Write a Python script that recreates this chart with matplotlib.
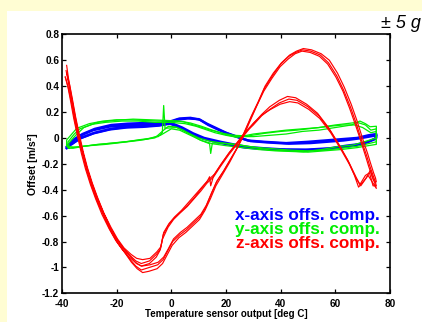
import matplotlib
matplotlib.use("Agg")
import matplotlib.pyplot as plt
from matplotlib.patches import Rectangle
from matplotlib.font_manager import FontProperties

# ---------------- data ----------------
x_ticks = [-40, -20, 0, 20, 40, 60, 80]
y_ticks = [0.8, 0.6, 0.4, 0.2, 0, -0.2, -0.4, -0.6, -0.8, -1, -1.2]
y_tick_labels = ["0.8", "0.6", "0.4", "0.2", "0", "-0.2", "-0.4", "-0.6", "-0.8", "-1", "-1.2"]
legend_labels = ["x-axis offs. comp.", "y-axis offs. comp.", "z-axis offs. comp."]

# z-axis offset compensation, three temperature cycles (temp, offset)
z_cycle1 = [(-38.3, 0.56), (-37.5, 0.44), (-36.5, 0.32), (-35.3, 0.18), (-34.0, 0.04), (-32.5, -0.10),
            (-31.0, -0.22), (-29.2, -0.34), (-27.3, -0.45), (-25.0, -0.57), (-22.4, -0.69), (-20.0, -0.78),
            (-17.6, -0.85), (-15.0, -0.91), (-13.0, -0.95), (-11.0, -0.97), (-8.0, -0.95), (-5.5, -0.90),
            (-4.0, -0.86), (-3.0, -0.75), (-1.0, -0.67), (1.0, -0.62), (3.5, -0.57), (6.0, -0.52),
            (8.5, -0.46), (11.0, -0.39), (13.0, -0.34), (14.0, -0.30), (14.4, -0.37), (15.5, -0.29),
            (18.0, -0.21), (21.0, -0.12), (24.0, -0.04), (27.0, 0.04), (30.0, 0.10), (33.0, 0.17),
            (36.0, 0.22), (39.5, 0.27), (43.0, 0.30), (46.0, 0.29), (50.0, 0.24), (54.0, 0.17),
            (58.0, 0.06), (61.5, -0.06), (65.0, -0.19), (67.5, -0.30), (69.0, -0.36), (71.0, -0.29),
            (72.5, -0.27), (73.8, -0.37), (75.0, -0.37),
            (74.5, -0.33), (73.8, -0.29), (72.5, -0.21), (71.5, -0.14), (70.2, -0.06), (69.0, 0.02),
            (67.5, 0.12), (65.5, 0.24), (63.0, 0.37), (60.5, 0.48), (57.5, 0.58), (54.5, 0.64),
            (51.0, 0.67), (48.0, 0.68), (45.5, 0.66), (43.0, 0.63), (40.0, 0.57), (37.0, 0.48),
            (34.0, 0.38), (31.5, 0.26), (29.0, 0.15), (26.5, 0.03), (24.0, -0.08), (21.5, -0.17),
            (19.0, -0.26), (16.5, -0.34), (14.5, -0.44), (12.5, -0.54), (10.5, -0.61), (8.0, -0.66),
            (5.5, -0.71), (3.0, -0.75), (0.5, -0.80), (-1.5, -0.88), (-3.0, -0.94), (-5.0, -0.98),
            (-8.0, -1.00), (-11.0, -1.02), (-13.0, -0.99), (-15.0, -0.94), (-17.6, -0.87), (-20.0, -0.80),
            (-22.4, -0.71), (-25.0, -0.59), (-27.3, -0.48), (-29.2, -0.37), (-31.0, -0.25), (-32.5, -0.13),
            (-34.0, 0.00), (-35.3, 0.13), (-36.5, 0.27), (-37.6, 0.38), (-38.8, 0.47)]

z_cycle2 = [(-38.8, 0.47), (-37.9, 0.40), (-36.9, 0.29), (-35.7, 0.15), (-34.4, 0.02), (-32.9, -0.12),
            (-31.4, -0.24), (-29.6, -0.36), (-27.7, -0.47), (-25.4, -0.59), (-22.8, -0.70), (-20.4, -0.79),
            (-18.0, -0.86), (-15.4, -0.92), (-13.2, -0.96), (-11.0, -0.99), (-8.0, -0.97), (-5.5, -0.92),
            (-4.2, -0.87), (-3.2, -0.78), (-1.2, -0.69), (0.8, -0.63), (3.2, -0.58), (5.8, -0.53),
            (8.3, -0.47), (10.8, -0.41), (13.0, -0.35), (15.5, -0.30), (18.0, -0.22), (21.0, -0.13),
            (24.0, -0.05), (27.0, 0.03), (30.0, 0.11), (33.0, 0.18), (36.0, 0.24), (39.5, 0.29),
            (42.5, 0.32), (45.5, 0.31), (49.5, 0.26), (53.5, 0.19), (57.5, 0.08), (61.0, -0.04),
            (64.5, -0.17), (67.0, -0.29), (68.5, -0.38), (70.5, -0.33), (72.0, -0.29), (73.5, -0.34),
            (75.0, -0.39),
            (74.3, -0.34), (73.5, -0.30), (72.2, -0.22), (71.2, -0.15), (70.0, -0.07), (68.8, 0.01),
            (67.2, 0.11), (65.2, 0.23), (62.8, 0.36), (60.2, 0.47), (57.2, 0.57), (54.2, 0.63),
            (50.8, 0.66), (47.8, 0.67), (45.3, 0.65), (42.8, 0.61), (39.8, 0.55), (36.8, 0.46),
            (33.8, 0.36), (31.3, 0.25), (28.8, 0.13), (26.3, 0.01), (23.8, -0.09), (21.3, -0.19),
            (18.8, -0.28), (16.3, -0.37), (14.3, -0.47), (12.3, -0.56), (10.3, -0.63), (7.8, -0.68),
            (5.3, -0.73), (2.8, -0.77), (0.3, -0.83), (-1.7, -0.91), (-3.2, -0.97), (-5.2, -1.01),
            (-8.2, -1.03), (-10.5, -1.04), (-12.5, -1.01), (-14.6, -0.96), (-17.2, -0.88), (-19.6, -0.81),
            (-22.0, -0.72), (-24.6, -0.60), (-26.9, -0.49), (-28.8, -0.38), (-30.6, -0.26), (-32.1, -0.14),
            (-33.6, -0.01), (-34.9, 0.12), (-36.1, 0.26), (-37.2, 0.39), (-38.2, 0.50)]

z_cycle3 = [(-38.2, 0.50), (-37.2, 0.41), (-36.2, 0.30), (-35.0, 0.16), (-33.7, 0.03), (-32.2, -0.11),
            (-30.7, -0.23), (-28.9, -0.35), (-27.0, -0.46), (-24.7, -0.58), (-22.1, -0.69), (-19.7, -0.78),
            (-17.3, -0.85), (-14.7, -0.90), (-12.7, -0.93), (-10.5, -0.94), (-7.8, -0.93), (-5.3, -0.88),
            (-3.8, -0.84), (-2.8, -0.73), (-0.8, -0.66), (1.2, -0.61), (3.7, -0.56), (6.2, -0.50),
            (8.7, -0.44), (11.2, -0.38), (13.3, -0.33), (15.8, -0.28), (18.3, -0.20), (21.3, -0.11),
            (24.3, -0.03), (27.3, 0.05), (30.3, 0.12), (33.3, 0.18), (36.3, 0.22), (39.8, 0.26),
            (43.3, 0.28), (46.3, 0.27), (50.3, 0.22), (54.3, 0.15), (58.3, 0.04), (61.8, -0.08),
            (65.3, -0.21), (67.8, -0.32), (69.3, -0.37), (71.3, -0.31), (72.8, -0.25), (74.0, -0.33),
            (75.0, -0.34),
            (74.7, -0.31), (74.0, -0.27), (72.8, -0.19), (71.8, -0.12), (70.5, -0.04), (69.3, 0.04),
            (67.8, 0.14), (65.8, 0.26), (63.3, 0.39), (60.8, 0.50), (57.8, 0.60), (54.8, 0.65),
            (51.3, 0.68), (48.3, 0.69), (45.8, 0.67), (43.3, 0.64), (40.3, 0.58), (37.3, 0.50),
            (34.3, 0.40), (31.8, 0.28), (29.3, 0.17), (26.8, 0.05), (24.3, -0.07), (21.8, -0.16),
            (19.3, -0.25), (16.8, -0.33), (14.8, -0.42), (12.8, -0.52), (10.8, -0.59), (8.3, -0.64),
            (5.8, -0.69), (3.3, -0.73), (0.8, -0.78), (-1.2, -0.86), (-2.8, -0.92), (-4.8, -0.96),
            (-7.8, -0.98), (-10.8, -0.99), (-12.8, -0.97), (-14.8, -0.92), (-17.4, -0.86), (-19.8, -0.79),
            (-22.2, -0.70), (-24.8, -0.58), (-27.1, -0.47), (-29.0, -0.36), (-30.8, -0.24), (-32.3, -0.12),
            (-33.8, 0.01), (-35.1, 0.14), (-36.3, 0.28), (-37.4, 0.40), (-38.5, 0.52)]

# x-axis offset compensation, two cycles
x_cycle1 = [(-38.3, -0.08), (-36.0, -0.02), (-33.0, 0.02), (-28.5, 0.06), (-22.0, 0.09), (-16.0, 0.10),
            (-10.0, 0.105), (-4.0, 0.105), (0.0, 0.12), (2.0, 0.14), (6.0, 0.15), (10.0, 0.145),
            (13.0, 0.11), (17.0, 0.07), (20.0, 0.04), (24.0, 0.01), (28.0, -0.02), (34.0, -0.03),
            (42.0, -0.04), (50.0, -0.03), (56.0, -0.02), (62.0, -0.01), (68.0, 0.00), (72.0, 0.02),
            (75.0, 0.03), (75.0, 0.00), (72.0, -0.03), (68.0, -0.05), (64.0, -0.06), (58.0, -0.08),
            (50.0, -0.09), (42.0, -0.09), (34.0, -0.08), (28.0, -0.07), (24.0, -0.055), (18.0, -0.03),
            (12.0, 0.00), (8.0, 0.035), (4.0, 0.08), (0.0, 0.115), (-4.0, 0.10), (-10.0, 0.09),
            (-16.0, 0.085), (-22.0, 0.07), (-28.0, 0.04), (-33.0, 0.00), (-36.0, -0.04), (-38.3, -0.07)]

x_cycle2 = [(-38.0, -0.06), (-35.5, -0.01), (-32.5, 0.03), (-28.0, 0.07), (-22.0, 0.10), (-16.0, 0.11),
            (-10.0, 0.115), (-4.0, 0.115), (0.0, 0.13), (3.0, 0.15), (7.0, 0.155), (10.5, 0.14),
            (13.5, 0.10), (17.5, 0.06), (21.0, 0.03), (25.0, 0.00), (29.0, -0.025), (35.0, -0.035),
            (43.0, -0.045), (51.0, -0.04), (57.0, -0.03), (63.0, -0.02), (68.5, -0.005), (72.5, 0.01),
            (75.0, 0.02), (74.5, -0.01), (71.5, -0.035), (67.5, -0.055), (63.0, -0.07), (57.0, -0.085),
            (49.0, -0.095), (41.0, -0.09), (33.0, -0.085), (27.0, -0.075), (23.0, -0.06), (17.0, -0.035),
            (11.5, -0.005), (7.5, 0.03), (3.5, 0.075), (-0.5, 0.11), (-4.5, 0.095), (-10.5, 0.085),
            (-16.5, 0.08), (-22.5, 0.065), (-28.5, 0.035), (-33.5, -0.005), (-36.5, -0.05), (-38.0, -0.06)]

# y-axis offset compensation, three cycles
y_cycle1 = [(-38.3, -0.06), (-38.3, -0.016), (-36.0, 0.04), (-34.6, 0.074), (-30.0, 0.11), (-25.0, 0.13),
            (-20.0, 0.14), (-15.0, 0.14), (-10.0, 0.135), (-5.0, 0.13), (0.0, 0.13), (4.4, 0.125),
            (8.0, 0.10), (10.5, 0.086), (13.5, 0.065), (16.6, 0.048), (20.0, 0.025), (23.0, 0.01),
            (30.0, 0.01), (36.0, 0.02), (42.0, 0.03), (48.0, 0.05), (54.0, 0.06), (60.0, 0.08),
            (66.0, 0.10), (69.0, 0.13), (71.0, 0.11), (72.7, 0.086), (75.0, 0.09), (75.0, 0.00),
            (72.7, -0.016), (69.0, -0.04), (66.5, -0.055), (60.5, -0.068), (55.0, -0.09), (48.3, -0.107),
            (42.0, -0.10), (36.0, -0.094), (28.8, -0.068), (24.0, -0.05), (19.0, -0.04), (15.0, -0.04),
            (14.4, -0.12), (14.0, -0.045), (10.5, -0.016), (7.5, 0.02), (4.4, 0.06), (1.5, 0.085),
            (-1.0, 0.09), (-2.3, 0.07), (-2.8, 0.25), (-3.3, 0.04), (-4.8, 0.01), (-7.8, -0.003),
            (-12.0, -0.015), (-16.3, -0.029), (-22.0, -0.04), (-28.5, -0.055), (-33.4, -0.068),
            (-36.0, -0.075), (-38.3, -0.06)]

y_cycle2 = [(-38.0, -0.07), (-37.8, -0.03), (-35.5, 0.03), (-33.5, 0.07), (-29.0, 0.105), (-24.0, 0.12),
            (-18.0, 0.13), (-12.0, 0.13), (-6.0, 0.12), (0.0, 0.12), (5.0, 0.11), (9.0, 0.09),
            (12.5, 0.065), (16.0, 0.04), (20.0, 0.02), (24.0, 0.005), (30.0, 0.03), (36.0, 0.045),
            (42.0, 0.06), (48.0, 0.07), (54.0, 0.08), (60.0, 0.10), (64.0, 0.11), (68.0, 0.12),
            (71.0, 0.10), (73.0, 0.06), (75.0, 0.07), (75.0, -0.03), (72.0, -0.045), (68.0, -0.065),
            (62.0, -0.08), (56.0, -0.095), (50.0, -0.10), (44.0, -0.095), (38.0, -0.085), (32.0, -0.075),
            (26.0, -0.06), (20.0, -0.045), (14.0, -0.025), (10.0, 0.0), (6.0, 0.04), (2.0, 0.08),
            (-2.0, 0.075), (-6.0, 0.0), (-12.0, -0.02), (-18.0, -0.035), (-24.0, -0.05), (-30.0, -0.06),
            (-35.0, -0.07), (-38.0, -0.07)]

y_cycle3 = [(-37.5, -0.08), (-37.5, -0.04), (-35.0, 0.02), (-32.0, 0.08), (-27.0, 0.12), (-21.0, 0.135),
            (-14.0, 0.145), (-8.0, 0.14), (-2.0, 0.135), (3.0, 0.13), (7.0, 0.115), (11.0, 0.09),
            (15.0, 0.06), (19.0, 0.035), (23.0, 0.02), (28.0, 0.015), (34.0, 0.035), (40.0, 0.05),
            (46.0, 0.06), (52.0, 0.075), (58.0, 0.09), (63.0, 0.10), (67.0, 0.10), (70.0, 0.08),
            (73.0, 0.04), (75.0, 0.05), (75.0, -0.05), (72.0, -0.06), (68.0, -0.075), (62.0, -0.09),
            (56.0, -0.10), (50.0, -0.11), (44.0, -0.105), (38.0, -0.10), (32.0, -0.09), (26.0, -0.075),
            (20.0, -0.06), (15.0, -0.045), (11.0, -0.02), (7.0, 0.02), (3.0, 0.06), (0.0, 0.07),
            (-4.0, 0.02), (-9.0, -0.01), (-15.0, -0.025), (-21.0, -0.04), (-27.0, -0.05), (-32.0, -0.065),
            (-36.0, -0.08), (-37.5, -0.08)]

# ---------------- figure ----------------
fig = plt.figure(figsize=(4.22, 3.22), dpi=100, facecolor="#FFFDD3")
fig.patches.append(Rectangle((7 / 422, 0), 1, 1 - 11 / 322, transform=fig.transFigure,
                             facecolor="white", edgecolor="none", zorder=-10))

ax = fig.add_axes([62 / 422, 1 - 293.3 / 322, 328 / 422, 259 / 322])
ax.set_zorder(5)
ax.set_facecolor("white")

def draw(cycles, color, lw):
    for cyc in cycles:
        xs = [p[0] for p in cyc]
        ys = [p[1] for p in cyc]
        ax.plot(xs, ys, color=color, lw=lw, solid_joinstyle="round")

draw([x_cycle1, x_cycle2], "#0000FF", 1.7)
draw([y_cycle1, y_cycle2, y_cycle3], "#00EE00", 0.9)
draw([z_cycle1, z_cycle2, z_cycle3], "#FF0000", 0.85)

ax.set_xlim(-40, 80)
ax.set_ylim(-1.2, 0.8)
ax.set_xticks(x_ticks)
ax.set_xticklabels([str(t) for t in x_ticks])
ax.set_yticks(y_ticks)
ax.set_yticklabels(y_tick_labels)

tick_fp = FontProperties(family="Liberation Sans", weight="bold", size=7.2)
for lab in ax.get_xticklabels() + ax.get_yticklabels():
    lab.set_fontproperties(tick_fp)

ax.tick_params(direction="in", top=True, right=True, length=3, width=0.9, pad=2)
ax.tick_params(axis="x", pad=4)
for s in ax.spines.values():
    s.set_linewidth(1.2)

ax.set_xlabel("Temperature sensor output [deg C]", family="Liberation Sans", weight="bold",
              size=7.0, labelpad=0)
ax.set_ylabel("Offset [m/s\u00b2]", family="Liberation Sans", weight="bold", size=7.6, labelpad=3)

colors = ["#0000FF", "#00EE00", "#FF0000"]
ys_leg = [0.300, 0.246, 0.192]
for lab, c, yy in zip(legend_labels, colors, ys_leg):
    ax.text(0.97, yy, lab, color=c, transform=ax.transAxes, ha="right", va="center",
            family="Liberation Sans", weight="bold", size=12.3)

fig.text(381 / 422, 1 - 28 / 322, "\u00b1 5 g", family="Liberation Sans", style="italic",
         size=13, ha="left", va="baseline")

fig.savefig("out.png", dpi=100, facecolor=fig.get_facecolor())
